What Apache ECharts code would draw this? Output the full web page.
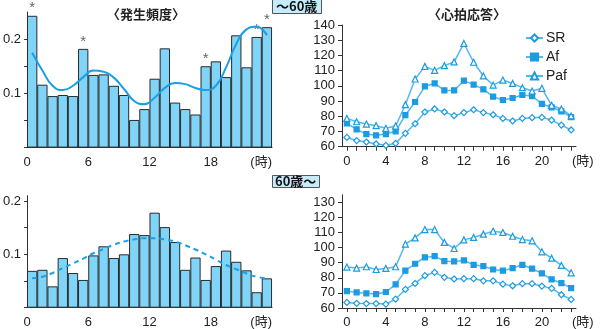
<!DOCTYPE html>
<html>
<head>
<meta charset="utf-8">
<script src="https://cdn.jsdelivr.net/npm/echarts@6/dist/echarts.min.js"></script>
<style>
  html, body { margin: 0; padding: 0; background: #fff; }
  #chart { width: 600px; height: 329px; }
</style>
</head>
<body>
<div id="chart"></div>
<script>
// Hourly onset frequency of attacks (bars) with fitted curves, per age group
const youngFreq = [0.243, 0.116, 0.095, 0.097, 0.095, 0.182, 0.134, 0.135, 0.114, 0.097, 0.051, 0.071,
                   0.127, 0.183, 0.083, 0.071, 0.061, 0.150, 0.159, 0.130, 0.207, 0.148, 0.204, 0.222];
const youngStarred = [0, 5, 17, 22, 23];
const youngFit = [0.175, 0.142, 0.114, 0.106, 0.114, 0.130, 0.142, 0.140, 0.129, 0.108, 0.086, 0.080,
                  0.092, 0.110, 0.119, 0.117, 0.110, 0.106, 0.114, 0.148, 0.191, 0.218, 0.223, 0.207];

const elderFreq = [0.069, 0.071, 0.040, 0.093, 0.065, 0.052, 0.098, 0.115, 0.093, 0.100, 0.138, 0.136,
                   0.178, 0.151, 0.123, 0.071, 0.094, 0.052, 0.078, 0.107, 0.086, 0.070, 0.029, 0.055];
const elderFit = [0.055, 0.058, 0.065, 0.074, 0.083, 0.092, 0.102, 0.110, 0.118, 0.124, 0.128, 0.130,
                  0.130, 0.128, 0.124, 0.117, 0.109, 0.100, 0.090, 0.080, 0.072, 0.064, 0.058, 0.055];

// Heart-rate response by hour (beats/min)
const hourCats = ['0','1','2','3','4','5','6','7','8','9','10','11',
                  '12','13','14','15','16','17','18','19','20','21','22','23'];

const youngSR  = [66.1, 64.0, 63.1, 61.8, 60.9, 62.2, 68.8, 75.1, 82.8, 84.8, 82.8, 80.4,
                  82.4, 84.3, 82.4, 81.0, 78.6, 76.9, 78.6, 79.1, 79.3, 77.5, 74.2, 71.0];
const youngAf  = [75.3, 71.4, 68.3, 67.5, 68.3, 70.1, 80.8, 89.4, 99.7, 101.6, 97.0, 97.0,
                  103.4, 100.8, 97.7, 92.9, 90.7, 92.0, 94.0, 93.3, 88.1, 85.9, 83.2, 79.5];
const youngPaf = [78.6, 76.4, 74.9, 73.8, 72.1, 73.6, 87.6, 104.5, 112.8, 110.2, 113.3, 115.7,
                  127.9, 115.5, 106.5, 100.5, 103.8, 101.6, 98.8, 96.6, 98.4, 87.2, 84.8, 80.2];

const elderSR  = [63.7, 63.1, 62.9, 62.9, 62.6, 65.9, 72.3, 76.3, 81.4, 83.6, 80.3, 79.2,
                  79.4, 79.4, 78.0, 78.0, 75.8, 74.7, 76.1, 76.1, 74.5, 73.0, 68.8, 65.7];
const elderAf  = [71.2, 70.3, 69.7, 69.2, 70.6, 75.6, 84.7, 89.3, 93.5, 94.3, 91.0, 90.8,
                  91.5, 88.6, 87.7, 85.5, 84.7, 86.4, 88.6, 86.0, 82.9, 78.9, 76.5, 73.2];
const elderPaf = [87.1, 86.4, 87.3, 85.5, 86.2, 87.3, 102.3, 106.4, 111.9, 111.9, 103.4, 99.4,
                  105.1, 106.7, 108.9, 110.8, 110.0, 107.5, 105.3, 104.5, 97.2, 93.0, 88.2, 83.3];

const FONT = "'Liberation Sans', 'Noto Sans CJK JP', sans-serif";
const CJK = "'Noto Sans CJK JP', 'Liberation Sans', sans-serif";
const AXIS = '#333';
const BAR_FILL = '#80d4f8';
const CURVE = '#1a9fe6';
const LINE = '#52b9ec';
const MARK = '#1a9be2';

const chart = echarts.init(document.getElementById('chart'), null, { renderer: 'canvas' });

function histX(gridIndex) {
  return {
    type: 'value', gridIndex, min: 0, max: 24, interval: 6,
    axisLine: { show: true, lineStyle: { color: AXIS, width: 1 } },
    axisTick: { show: false },
    splitLine: { show: false },
    axisLabel: {
      color: '#222', fontSize: 13, fontFamily: FONT, margin: 8,
      alignMaxLabel: 'right',
      formatter: v => (v === 24 ? '(時)' : String(v))
    }
  };
}
function histY(gridIndex, max) {
  return {
    type: 'value', gridIndex, min: 0, max,
    axisLine: { show: true, lineStyle: { color: AXIS, width: 1 } },
    axisTick: { show: true, inside: false, length: 3, lineStyle: { color: AXIS },
                customValues: [0, 0.05, 0.1, 0.15, 0.2] },
    splitLine: { show: false },
    axisLabel: { color: '#222', fontSize: 13, fontFamily: FONT, margin: 6,
                 customValues: [0.1, 0.2], formatter: v => v.toFixed(1) }
  };
}
function hrX(gridIndex) {
  return {
    type: 'category', gridIndex, data: hourCats, boundaryGap: true,
    axisLine: { show: true, lineStyle: { color: AXIS, width: 1 } },
    axisTick: { show: true, alignWithLabel: true, interval: 0, length: 4, lineStyle: { color: AXIS } },
    axisLabel: { interval: 3, color: '#222', fontSize: 13, fontFamily: FONT, margin: 8 },
    name: '(時)', nameLocation: 'end', nameGap: -4,
    nameTextStyle: { color: '#222', fontSize: 13, fontFamily: FONT, verticalAlign: 'top',
                     align: 'left', padding: [8, 0, 0, 0] }
  };
}
function hrY(gridIndex, max, ticks) {
  return {
    type: 'value', gridIndex, min: 60, max,
    axisLine: { show: true, lineStyle: { color: AXIS, width: 1 } },
    axisTick: { show: true, length: 4, lineStyle: { color: AXIS }, customValues: ticks },
    splitLine: { show: false },
    axisLabel: { color: '#222', fontSize: 13, fontFamily: FONT, margin: 7, customValues: ticks }
  };
}

function bars(name, values, axisIndex, starred) {
  return {
    name, type: 'bar', xAxisIndex: axisIndex, yAxisIndex: axisIndex,
    data: values.map((v, i) => [i + 0.5, v]),
    barWidth: 10.33,
    itemStyle: { color: BAR_FILL, borderColor: '#2a2a2a', borderWidth: 1 },
    label: {
      show: !!starred, position: 'top', distance: 0, color: '#666', fontSize: 15, fontFamily: FONT,
      formatter: p => (starred && starred.includes(p.dataIndex) ? '*' : '')
    },
    silent: true, z: 2
  };
}
function fit(name, values, axisIndex, dashed) {
  return {
    name, type: 'line', xAxisIndex: axisIndex, yAxisIndex: axisIndex,
    data: values.map((v, i) => [i + 0.5, v]),
    smooth: true, showSymbol: false, symbol: 'none',
    lineStyle: { color: CURVE, width: 2, type: dashed ? [5, 4] : 'solid' },
    silent: true, z: 3
  };
}
function hr(name, values, axisIndex, symbol, filled, size) {
  return {
    name, type: 'line', xAxisIndex: axisIndex, yAxisIndex: axisIndex,
    data: values, symbol, symbolSize: size, showSymbol: true, showAllSymbol: true,
    lineStyle: { color: LINE, width: 1.5 },
    itemStyle: { color: filled ? MARK : '#fff', borderColor: MARK, borderWidth: 1.2 },
    silent: true
  };
}

chart.setOption({
  animation: false,
  textStyle: { fontFamily: FONT },
  title: [
    { text: '〈発生頻度〉', left: 141, top: 3, textAlign: 'center',
      textStyle: { fontSize: 13, fontWeight: 'bold', color: '#222', fontFamily: CJK } },
    { text: '〈心拍応答〉', left: 462, top: 3, textAlign: 'center',
      textStyle: { fontSize: 13, fontWeight: 'bold', color: '#222', fontFamily: CJK } },
    { text: '〜60歳', left: 272, top: -1, padding: [1, 4, 1, 4],
      backgroundColor: '#c6ebfb', borderColor: '#555', borderWidth: 1,
      textStyle: { fontSize: 13, fontWeight: 'bold', color: '#111', fontFamily: CJK } },
    { text: '60歳〜', left: 272, top: 175, padding: [0, 3, 0, 3],
      backgroundColor: '#c6ebfb', borderColor: '#555', borderWidth: 1,
      textStyle: { fontSize: 13, fontWeight: 'bold', color: '#111', fontFamily: CJK } }
  ],
  legend: {
    left: 520, top: 26, orient: 'vertical', itemWidth: 17, itemHeight: 9, itemGap: 5,
    data: ['SR', 'Af', 'Paf'],
    textStyle: { fontSize: 14, color: '#222', fontFamily: FONT, padding: [0, 0, 0, -2] }
  },
  grid: [
    { left: 24, top: 12, width: 248, height: 135.6 },
    { left: 342, top: 25, width: 234, height: 121.7 },
    { left: 24, top: 195.6, width: 248, height: 112.1 },
    { left: 342, top: 194.7, width: 234, height: 113.6 }
  ],
  xAxis: [histX(0), hrX(1), histX(2), hrX(3)],
  yAxis: [
    histY(0, 0.25),
    hrY(1, 140, [60, 70, 80, 90, 100, 110, 120, 130, 140]),
    histY(2, 0.21),
    hrY(3, 135, [60, 70, 80, 90, 100, 110, 120, 130])
  ],
  series: [
    bars('〜60歳 頻度', youngFreq, 0, youngStarred),
    fit('〜60歳 近似', youngFit, 0, false),
    hr('SR', youngSR, 1, 'diamond', false, 6),
    hr('Af', youngAf, 1, 'rect', true, 5),
    hr('Paf', youngPaf, 1, 'triangle', false, 6),
    bars('60歳〜 頻度', elderFreq, 2, null),
    fit('60歳〜 近似', elderFit, 2, true),
    hr('SR', elderSR, 3, 'diamond', false, 6),
    hr('Af', elderAf, 3, 'rect', true, 5),
    hr('Paf', elderPaf, 3, 'triangle', false, 6)
  ]
});
</script>
</body>
</html>
